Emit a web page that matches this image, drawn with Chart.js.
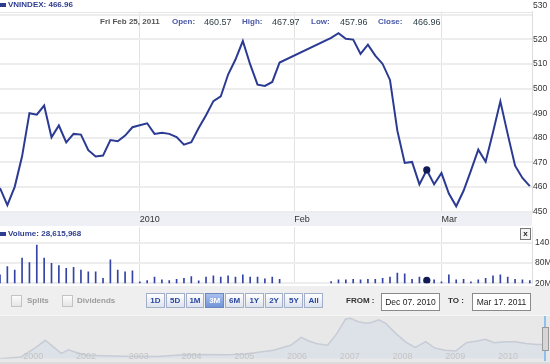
<!DOCTYPE html>
<html>
<head>
<meta charset="utf-8">
<script src="https://cdn.jsdelivr.net/npm/chart.js@4.4.1/dist/chart.umd.min.js"></script>
<style>
  body { margin: 0; }
  #wrap { position: relative; width: 550px; height: 364px; overflow: hidden; background: #fff;
          font-family: "Liberation Sans", Arial, sans-serif; }
  #wrap canvas { position: absolute; left: 0; }
  .abs { position: absolute; }
  .t { position: absolute; white-space: nowrap; line-height: 10px; font-size: 8px; }
  .b { font-weight: bold; }
  .lbl { color: #4a58a8; font-weight: bold; }
  .num { color: #2d3d45; font-size: 9px; }
  .chk { position: absolute; width: 9px; height: 10px; border: 1px solid #c4c4c4;
         background: linear-gradient(#fcfcfc, #e6e6e6); }
  #zoomBtns { position: absolute; left: 146px; top: 293px; width: 177px; height: 15px; display: flex; gap: 1px; }
  #zoomBtns div { flex: 1; border: 1px solid #a3afc8; background: linear-gradient(#ffffff, #dde3ee);
                  font-size: 8px; font-weight: bold; color: #2846a0; text-align: center; line-height: 13px; }
  #zoomBtns div.on { background: linear-gradient(#a9c1ee, #7094d8); color: #ffffff; border-color: #6d86be; }
  .box { position: absolute; top: 293px; height: 16px; border: 1px solid #8a8a8a; background: #fff;
         font-size: 8.5px; color: #222; text-align: center; line-height: 16px; }
</style>
</head>
<body>
<div id="wrap">
  <div class="abs" style="left:0;top:212px;width:532px;height:14px;background:#eef0f5"></div>
  <div class="abs" style="left:0;top:315px;width:550px;height:49px;background:#e8e8e8;border-top:1px solid #f6f6f6"></div>
  <div class="abs" style="left:0;top:362px;width:550px;height:2px;background:#dcdcdc"></div>

  <canvas id="priceChart" width="550" height="226" style="top:0"></canvas>
  <canvas id="volumeChart" width="550" height="100" style="top:200px"></canvas>

  <div class="abs" style="left:0;top:286px;width:550px;height:29px;background:#efefef"></div>
  <canvas id="navChart" width="550" height="64" style="top:300px"></canvas>

  <!-- header rows -->
  <div class="abs" style="left:0;top:3px;width:6px;height:4px;background:#2e3d8f"></div>
  <div class="t b" style="left:8px;top:0;color:#2e3d8f">VNINDEX: 466.96</div>

  <div class="t b" style="left:100px;top:17px;color:#555">Fri Feb 25, 2011</div>
  <div class="t lbl" style="left:172px;top:17px">Open:</div>
  <div class="t num" style="left:204px;top:17px">460.57</div>
  <div class="t lbl" style="left:242px;top:17px">High:</div>
  <div class="t num" style="left:272px;top:17px">467.97</div>
  <div class="t lbl" style="left:311px;top:17px">Low:</div>
  <div class="t num" style="left:340px;top:17px">457.96</div>
  <div class="t lbl" style="left:378px;top:17px">Close:</div>
  <div class="t num" style="left:413px;top:17px">466.96</div>

  <div class="abs" style="left:0;top:232px;width:6px;height:4px;background:#2e3d8f"></div>
  <div class="t b" style="left:8px;top:229px;color:#2e3d8f">Volume: 28,615,968</div>
  <div class="abs" style="left:520px;top:228px;width:9px;height:10px;border:1px solid #777;background:#f4f4f4;
       font-size:8px;font-weight:bold;line-height:9px;text-align:center;color:#222">x</div>

  <!-- controls -->
  <div class="chk" style="left:11px;top:295px"></div>
  <div class="t b" style="left:27px;top:296px;color:#9c9c9c">Splits</div>
  <div class="chk" style="left:62px;top:295px"></div>
  <div class="t b" style="left:77px;top:296px;color:#9c9c9c">Dividends</div>
  <div id="zoomBtns">
    <div>1D</div><div>5D</div><div>1M</div><div class="on">3M</div><div>6M</div>
    <div>1Y</div><div>2Y</div><div>5Y</div><div>All</div>
  </div>
  <div class="t b" style="left:346px;top:296px;color:#333">FROM :</div>
  <div class="box" style="left:381px;width:57px">Dec 07. 2010</div>
  <div class="t b" style="left:448px;top:296px;color:#333">TO :</div>
  <div class="box" style="left:472px;width:57px">Mar 17. 2011</div>

  <!-- navigator handle -->
  <div class="abs" style="left:544px;top:316px;width:2px;height:45px;background:#8cc0ee"></div>
  <div class="abs" style="left:542px;top:327px;width:5px;height:22px;background:#d6d6d6;border:1px solid #9a9a9a"></div>
</div>

<script>
// trading days shown in the 3M window
const tradeDates = [
  "2010-12-07", "2010-12-08", "2010-12-09", "2010-12-10",
  "2010-12-13", "2010-12-14", "2010-12-15", "2010-12-16", "2010-12-17",
  "2010-12-20", "2010-12-21", "2010-12-22", "2010-12-23", "2010-12-24",
  "2010-12-27", "2010-12-28", "2010-12-29", "2010-12-30", "2010-12-31",
  "2011-01-03", "2011-01-04", "2011-01-05", "2011-01-06", "2011-01-07",
  "2011-01-10", "2011-01-11", "2011-01-12", "2011-01-13", "2011-01-14",
  "2011-01-17", "2011-01-18", "2011-01-19", "2011-01-20", "2011-01-21",
  "2011-01-24", "2011-01-25", "2011-01-26", "2011-01-27", "2011-01-28",
  "2011-02-08", "2011-02-09", "2011-02-10", "2011-02-11",
  "2011-02-14", "2011-02-15", "2011-02-16", "2011-02-17", "2011-02-18",
  "2011-02-21", "2011-02-22", "2011-02-23", "2011-02-24", "2011-02-25",
  "2011-02-28", "2011-03-01", "2011-03-02", "2011-03-03", "2011-03-04",
  "2011-03-07", "2011-03-08", "2011-03-09", "2011-03-10", "2011-03-11",
  "2011-03-14", "2011-03-15", "2011-03-16", "2011-03-17"
];
const closes = [
  459.6, 452.7, 460.1, 472.5,
  490.0, 489.4, 493.1, 480.2, 485.0,
  478.1, 481.6, 481.3, 475.0, 472.4,
  472.8, 479.1, 478.6, 480.9, 484.3,
  485.1, 485.9, 481.6, 482.1, 481.6,
  480.3, 477.2, 478.2, 484.0, 489.2,
  494.9, 496.8, 505.7, 511.8, 519.3,
  509.8, 501.6, 501.1, 502.7, 510.6,
  520.6, 522.5, 520.2, 519.9,
  514.1, 517.8, 513.4, 510.0, 503.5,
  482.9, 469.8, 470.2, 461.1, 466.96,
  461.1, 465.7, 457.4, 452.2, 458.5,
  466.7, 475.2, 470.3, 482.3, 494.8,
  481.5, 468.7, 463.7, 460.4
];
// millions of shares
const volumes = [
  45, 69, 59, 94,
  81, 133, 94, 79, 72,
  64, 67, 59, 54, 54,
  35, 89, 59, 54, 57,
  24, 28, 38, 30, 28,
  32, 35, 40, 27, 38,
  42, 38, 42, 38, 45,
  38, 38, 33, 38, 32,
  25, 30, 30, 32,
  30, 32, 32, 35, 38,
  50, 48, 32, 38, 28.6,
  30, 24, 45, 30, 32,
  24, 30, 35, 42, 45,
  38, 32, 30, 28
];
const markDate = "2011-02-25";

const xTickDates = ["2011-01-03", "2011-02-01", "2011-03-01"];
const xTickLabels = ["2010", "Feb", "Mar"];
const priceTicks = [450, 460, 470, 480, 490, 500, 510, 520, 530];
const volTicks = [20, 80, 140];

// long-range navigator (decimal year, index level)
const navYears = [
  2000.87, 2001.27, 2001.53, 2001.73, 2001.87, 2002.03, 2002.17, 2002.33, 2002.53,
  2003.2, 2003.86, 2004.19, 2004.52, 2005.19, 2005.52, 2006.05, 2006.38, 2006.58,
  2006.72, 2006.88, 2007.08, 2007.25, 2007.42, 2007.51, 2007.65, 2007.81, 2007.91,
  2008.05, 2008.18, 2008.38, 2008.58, 2008.74, 2008.94, 2009.11, 2009.31, 2009.51,
  2009.71, 2009.91, 2010.07, 2010.24, 2010.44, 2010.64, 2010.84, 2011.04, 2011.2
];
const navValues = [
  100, 148, 385, 594, 432, 243, 338, 262, 195,
  167, 157, 195, 214, 205, 224, 328, 461, 670,
  575, 499, 461, 765, 1164, 1183, 1097, 1050, 1069,
  1145, 1050, 765, 527, 404, 556, 385, 328, 309,
  527, 575, 622, 527, 556, 556, 508, 480, 480
];
const navTickYears = [2001.5, 2002.5, 2003.5, 2004.5, 2005.5, 2006.5, 2007.5, 2008.5, 2009.5, 2010.5];
const navTickLabels = ["2000", "2002", "2003", "2004", "2005", "2006", "2007", "2008", "2009", "2010"];

const FONT = '"Liberation Sans", Arial, sans-serif';
Chart.defaults.font.family = FONT;

// position of a date counted in weekdays from the first day shown
function weekdayIndex(d) {
  const [y, m, dd] = d.split("-").map(Number);
  const days = Math.round((Date.UTC(y, m - 1, dd) - Date.UTC(2010, 11, 7)) / 86400000);
  let idx = Math.floor(days / 7) * 5;
  for (let i = 1; i <= days % 7; i++) {
    const dw = (2 + i) % 7;
    if (dw !== 0 && dw !== 6) idx++;
  }
  return idx;
}

const markIdx = tradeDates.indexOf(markDate);
const markX = weekdayIndex(markDate);

const xAxis = (showTicks) => ({
  type: "linear",
  min: 0,
  max: 72.3,
  offset: false,
  afterBuildTicks: (a) => { a.ticks = xTickDates.map((d) => ({ value: weekdayIndex(d) })); },
  grid: { color: "#e2e2e2", lineWidth: 1, drawTicks: false, offset: false },
  border: { display: false },
  ticks: {
    display: showTicks, align: "start", padding: 2, color: "#333", autoSkip: false, maxRotation: 0,
    font: { size: 9 }, callback: (v, i) => xTickLabels[i]
  }
});

const topLabelPlugin = {
  id: "topLabel",
  beforeDatasetsDraw(chart) {
    const { ctx, chartArea, scales } = chart;
    ctx.save();
    ctx.strokeStyle = "#e6e6e6";
    ctx.lineWidth = 1;
    ctx.beginPath();
    ctx.moveTo(chartArea.left, Math.round(chartArea.top) + 0.5);
    ctx.lineTo(chartArea.right, Math.round(chartArea.top) + 0.5);
    ctx.stroke();
    ctx.fillStyle = "#333";
    ctx.font = "8.5px " + FONT;
    ctx.textBaseline = "middle";
    ctx.textAlign = "left";
    const top = priceTicks[priceTicks.length - 1];
    ctx.fillText(String(top), chartArea.right + 1, scales.y.getPixelForValue(top) - 9.5);
    ctx.restore();
  }
};

new Chart(document.getElementById("priceChart"), {
  type: "line",
  data: {
    datasets: [
      {
        type: "scatter",
        data: [{ x: markX, y: closes[markIdx] }],
        pointRadius: 3.6,
        pointBackgroundColor: "#0e1b57",
        pointBorderWidth: 0,
        order: 0
      },
      {
        data: tradeDates.map((d, i) => ({ x: weekdayIndex(d), y: closes[i] })),
        borderColor: "#2b3a92",
        borderWidth: 2,
        pointRadius: 0,
        tension: 0,
        order: 1
      }
    ]
  },
  options: {
    responsive: false,
    animation: false,
    events: [],
    layout: { autoPadding: false, padding: { top: 11.5, left: 0, right: 0, bottom: 0 } },
    plugins: { legend: { display: false }, tooltip: { enabled: false } },
    scales: {
      x: Object.assign(xAxis(true), { afterFit: (a) => { a.height = 14.3; } }),
      y: {
        position: "right",
        min: 450,
        max: 531.3,
        afterBuildTicks: (a) => { a.ticks = priceTicks.map((v) => ({ value: v })); },
        afterFit: (a) => { a.width = 18; },
        grid: { color: "#ededed", lineWidth: 2, drawTicks: false },
        border: { color: "#dddddd" },
        ticks: {
          padding: 1, color: "#333", autoSkip: false, font: { size: 8.5 },
          callback: (v) => (v === priceTicks[priceTicks.length - 1] ? "" : v)
        }
      }
    }
  },
  plugins: [topLabelPlugin]
});

new Chart(document.getElementById("volumeChart"), {
  type: "bar",
  data: {
    datasets: [
      {
        type: "scatter",
        data: [{ x: markX, y: volumes[markIdx] }],
        pointRadius: 3.6,
        pointBackgroundColor: "#0e1b57",
        pointBorderWidth: 0,
        order: 0
      },
      {
        data: tradeDates.map((d, i) => ({ x: weekdayIndex(d), y: volumes[i] })),
        backgroundColor: "#3344a6",
        barThickness: 1,
        order: 1
      }
    ]
  },
  options: {
    responsive: false,
    animation: false,
    events: [],
    layout: { autoPadding: false, padding: { top: 27, left: 0, right: 0, bottom: 16.7 } },
    plugins: { legend: { display: false }, tooltip: { enabled: false } },
    scales: {
      x: xAxis(false),
      y: {
        position: "right",
        min: 20,
        max: 186,
        afterBuildTicks: (a) => { a.ticks = volTicks.map((v) => ({ value: v })); },
        afterFit: (a) => { a.width = 18; },
        grid: { color: "#ededed", lineWidth: 2, drawTicks: false },
        border: { color: "#dddddd" },
        ticks: { padding: 3, color: "#333", autoSkip: false, font: { size: 8.5 }, callback: (v) => v + "M" }
      }
    }
  }
});

const navLabelPlugin = {
  id: "navLabels",
  afterDatasetsDraw(chart) {
    const { ctx, scales } = chart;
    ctx.save();
    ctx.fillStyle = "#c4c4c4";
    ctx.font = "9px " + FONT;
    ctx.textAlign = "center";
    ctx.textBaseline = "middle";
    navTickYears.forEach((yr, i) => {
      ctx.fillText(navTickLabels[i], scales.x.getPixelForValue(yr), 57);
    });
    ctx.restore();
  }
};

new Chart(document.getElementById("navChart"), {
  type: "line",
  data: {
    datasets: [{
      data: navYears.map((x, i) => ({ x, y: navValues[i] })),
      fill: "start",
      backgroundColor: "#dde1e8",
      borderColor: "#c7ccd6",
      borderWidth: 1.5,
      pointRadius: 0,
      tension: 0
    }]
  },
  options: {
    responsive: false,
    animation: false,
    events: [],
    layout: { autoPadding: false, padding: { top: 16.6, left: 0, right: 5, bottom: 5.3 } },
    plugins: { legend: { display: false }, tooltip: { enabled: false } },
    scales: {
      x: { type: "linear", display: false, min: 2000.87, max: 2011.2 },
      y: { display: false, min: 100, max: 1229 }
    }
  },
  plugins: [navLabelPlugin]
});
</script>
</body>
</html>
